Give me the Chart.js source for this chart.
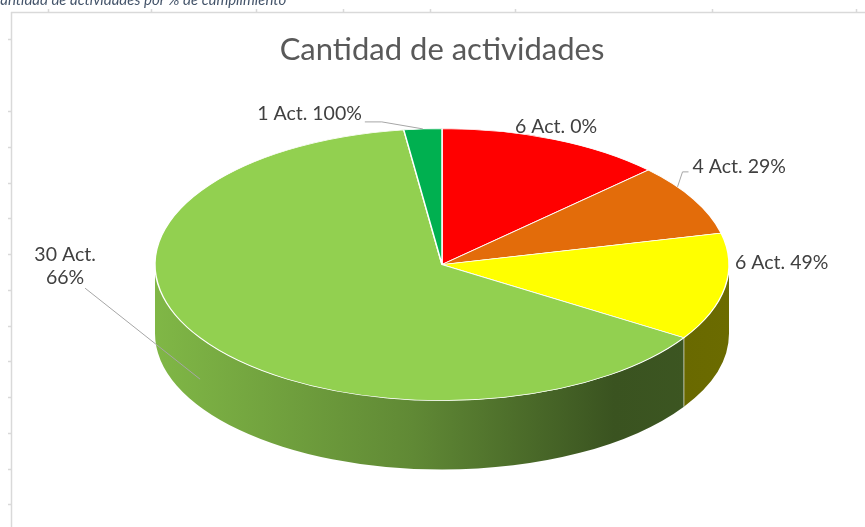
<!DOCTYPE html>
<html>
<head>
<meta charset="utf-8">
<script src="https://cdn.jsdelivr.net/npm/chart.js@4.4.1/dist/chart.umd.min.js"></script>
<style>
    html, body { margin: 0; padding: 0; background: #ffffff; }
    #wrap { width: 865px; height: 527px; position: relative; }
</style>
</head>
<body>
<div id="wrap"><canvas id="chart-canvas"></canvas></div>
<script>
// Slices, clockwise from 12 o'clock
const categories = ['0%', '29%', '49%', '66%', '100%'];
const activityCounts = [6, 4, 6, 30, 1];
const sliceColors = ['#ff0000', '#e36c0a', '#ffff00', '#92d050', '#00b050'];

const chartTitle = 'Cantidad de actividades';
const captionText = 'Cantidad de actividades por % de cumplimiento';

// Tick marks on the edge of the surrounding sheet
const frameTopTicks = [48, 151, 256, 343, 430, 515, 712, 856];
const frameLeftTicks = [39, 111, 147, 183, 218, 254, 290, 326, 361, 397, 433, 469, 504];

// Look of the 3D pie (screen pixels)
const pieRadiusX = 287;
const pieRadiusY = 136;
const pieDepth = 69;

// Where each label sits relative to its anchor on the slice edge
// f = fraction along the slice, drop = fraction of the wall depth
const labelLayout = [
    { f: 0.5, drop: 0, tx: 2, ty: -13, align: 'center', lead: null },
    { f: 0.3, drop: 0, tx: 15, ty: -20, align: 'left', lead: [[5, -15], [11, -15]] },
    { f: 0.5, drop: 0, tx: 10, ty: -25, align: 'left', lead: null },
    { f: 0.5, drop: 0.6, tx: -135, ty: -124, align: 'center', lead: [[-115, -91]], split: true },
    { f: 0.5, drop: 0, tx: -61, ty: -15, align: 'right', lead: [[-41, -7], [-58, -7]] }
];

const FONT = 'Lato, "Open Sans", sans-serif';

// Darken a hex colour by factor k
function shade(hex, k) {
    const n = parseInt(hex.slice(1), 16);
    const r = Math.round(((n >> 16) & 255) * k);
    const g = Math.round(((n >> 8) & 255) * k);
    const b = Math.round((n & 255) * k);
    return `rgb(${r},${g},${b})`;
}

// Light frame + cut-off caption behind the chart
const sheetFrame = {
    id: 'sheetFrame',
    beforeDraw(chart) {
        const ctx = chart.ctx;
        ctx.save();
        ctx.fillStyle = '#44546a';
        ctx.font = 'italic 15px ' + FONT;
        ctx.textBaseline = 'alphabetic';
        ctx.fillText(captionText, -9, 5);

        ctx.strokeStyle = '#d9d9d9';
        ctx.lineWidth = 1.5;
        ctx.beginPath();
        ctx.moveTo(11, 12.5);
        ctx.lineTo(865, 12.5);
        ctx.moveTo(11.5, 12);
        ctx.lineTo(11.5, 527);
        frameTopTicks.forEach(x => { ctx.moveTo(x + 0.5, 9); ctx.lineTo(x + 0.5, 12); });
        frameLeftTicks.forEach(y => { ctx.moveTo(8, y + 0.5); ctx.lineTo(11, y + 0.5); });
        ctx.stroke();
        ctx.restore();
    }
};

// Draws the front wall, squashes the pie into an ellipse and adds the labels
const pie3d = {
    id: 'pie3d',
    beforeDatasetsDraw(chart) {
        const ctx = chart.ctx;
        const arcs = chart.getDatasetMeta(0).data;
        const cx = arcs[0].x, cy = arcs[0].y;
        const rx = pieRadiusX, ry = pieRadiusY;

        arcs.forEach((arc, i) => {
            // only the lower half (canvas angles 0..PI) of the wall is visible
            const a0 = Math.max(arc.startAngle, 0);
            const a1 = Math.min(arc.endAngle, Math.PI);
            if (a1 <= a0) return;
            const grad = ctx.createLinearGradient(cx - rx, 0, cx + rx, 0);
            grad.addColorStop(0, shade(sliceColors[i], 0.88));
            grad.addColorStop(0.45, shade(sliceColors[i], 0.66));
            grad.addColorStop(0.8, shade(sliceColors[i], 0.4));
            grad.addColorStop(1, shade(sliceColors[i], 0.42));
            ctx.beginPath();
            ctx.ellipse(cx, cy, rx, ry, 0, a0, a1);
            ctx.ellipse(cx, cy + pieDepth, rx, ry, 0, a1, a0, true);
            ctx.closePath();
            ctx.fillStyle = grad;
            ctx.fill();
            // light seam where two walls meet
            if (a0 > 0) {
                ctx.strokeStyle = 'rgba(255,255,255,0.6)';
                ctx.lineWidth = 1;
                ctx.beginPath();
                ctx.moveTo(cx + rx * Math.cos(a0), cy + ry * Math.sin(a0));
                ctx.lineTo(cx + rx * Math.cos(a0), cy + ry * Math.sin(a0) + pieDepth);
                ctx.stroke();
            }
        });

        ctx.save();
        ctx.translate(cx, cy);
        ctx.scale(rx / arcs[0].outerRadius, ry / arcs[0].outerRadius);
        ctx.translate(-cx, -cy);
    },
    afterDatasetsDraw(chart) {
        const ctx = chart.ctx;
        ctx.restore();

        const arcs = chart.getDatasetMeta(0).data;
        const cx = arcs[0].x, cy = arcs[0].y;
        ctx.save();
        ctx.font = '19.5px ' + FONT;
        ctx.fillStyle = '#404040';
        ctx.textBaseline = 'middle';
        arcs.forEach((arc, i) => {
            const lay = labelLayout[i];
            const a = arc.startAngle + lay.f * (arc.endAngle - arc.startAngle);
            const ax = cx + pieRadiusX * Math.cos(a);
            const ay = cy + pieRadiusY * Math.sin(a) + lay.drop * pieDepth;

            if (lay.lead) {
                ctx.strokeStyle = '#a6a6a6';
                ctx.lineWidth = 1;
                ctx.beginPath();
                ctx.moveTo(ax, ay);
                lay.lead.forEach(p => ctx.lineTo(ax + p[0], ay + p[1]));
                ctx.stroke();
            }

            ctx.textAlign = lay.align;
            const count = activityCounts[i] + ' Act.';
            if (lay.split) {
                ctx.fillText(count, ax + lay.tx, ay + lay.ty);
                ctx.fillText(categories[i], ax + lay.tx, ay + lay.ty + 23);
            } else {
                ctx.fillText(count + ' ' + categories[i], ax + lay.tx, ay + lay.ty);
            }
        });
        ctx.restore();
    }
};

const ctx = document.getElementById('chart-canvas');

new Chart(ctx, {
    type: 'pie',
    data: {
        labels: categories,
        datasets: [{
            data: activityCounts,
            backgroundColor: sliceColors,
            borderColor: '#ffffff',
            borderWidth: 1,
            clip: false
        }]
    },
    options: {
        responsive: true,
        maintainAspectRatio: false,
        animation: false,
        events: [],
        layout: {
            padding: { left: 19, right: 0, top: 0, bottom: 66 }
        },
        plugins: {
            legend: { display: false },
            tooltip: { enabled: false },
            title: {
                display: true,
                text: chartTitle,
                color: '#595959',
                font: { family: FONT, size: 31, weight: 'normal' },
                padding: { top: 31, bottom: 0 }
            }
        }
    },
    plugins: [sheetFrame, pie3d]
});
</script>
</body>
</html>
